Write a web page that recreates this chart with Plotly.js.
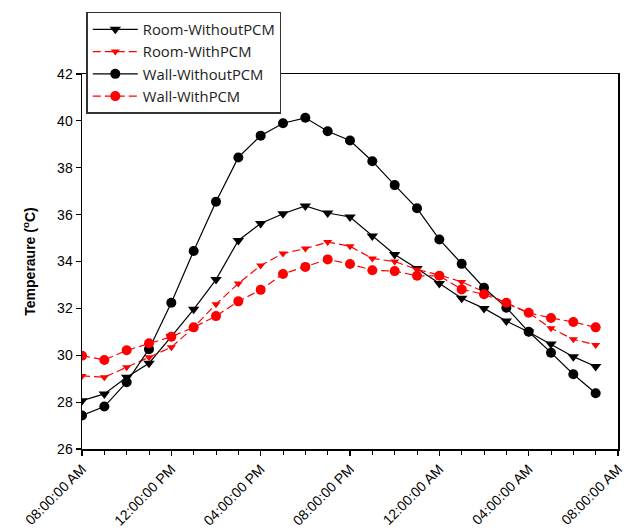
<!DOCTYPE html>
<html>
<head>
<meta charset="utf-8">
<script src="https://cdn.plot.ly/plotly-3.0.1.min.js"></script>
<style>html,body{margin:0;padding:0;background:#fff;}#chart{width:633px;height:532px;}</style>
</head>
<body>
<div id="chart"></div>
<script>
// Hours after 08:00 AM (hourly readings, 08:00 AM to 07:00 AM next day)
var hours = [0,1,2,3,4,5,6,7,8,9,10,11,12,13,14,15,16,17,18,19,20,21,22,23];
var tickHours = [0,4,8,12,16,20,24];
var tickLabels = ["08:00:00 AM","12:00:00 PM","04:00:00 PM","08:00:00 PM","12:00:00 AM","04:00:00 AM","08:00:00 AM"];

var roomWithoutPCM = [28.06,28.35,29.06,29.66,30.79,31.96,33.23,34.90,35.62,36.04,36.37,36.07,35.90,35.09,34.30,33.70,33.06,32.43,32.00,31.46,30.99,30.48,29.94,29.52];
var roomWithPCM    = [29.12,29.06,29.49,29.91,30.34,31.19,32.18,33.06,33.83,34.34,34.55,34.83,34.65,34.13,34.00,33.66,33.42,33.13,32.71,32.21,31.81,31.15,30.68,30.44];
var wallWithoutPCM = [27.43,27.81,28.85,30.26,32.24,34.45,36.55,38.44,39.37,39.90,40.13,39.56,39.16,38.28,37.26,36.27,34.94,33.90,32.88,32.03,31.00,30.11,29.19,28.38];
var wallWithPCM    = [29.98,29.80,30.21,30.51,30.79,31.19,31.67,32.30,32.79,33.47,33.77,34.09,33.89,33.63,33.59,33.39,33.39,32.81,32.60,32.24,31.81,31.59,31.42,31.19];

var traces = [
  {x: hours, y: roomWithoutPCM, name: "Room-WithoutPCM", mode: "lines+markers",
   line: {color: "#000000", width: 1.2}, marker: {symbol: "triangle-down", size: 10, color: "#000000"}},
  {x: hours, y: roomWithPCM, name: "Room-WithPCM", mode: "lines+markers",
   line: {color: "#ff0000", width: 1.2, dash: "8px,4px"}, marker: {symbol: "triangle-down", size: 8, color: "#ff0000"}},
  {x: hours, y: wallWithoutPCM, name: "Wall-WithoutPCM", mode: "lines+markers",
   line: {color: "#000000", width: 1.2}, marker: {symbol: "circle", size: 10, color: "#000000"}},
  {x: hours, y: wallWithPCM, name: "Wall-WithPCM", mode: "lines+markers",
   line: {color: "#ff0000", width: 1.2, dash: "8px,4px"}, marker: {symbol: "circle", size: 10, color: "#ff0000"}}
];

var layout = {
  width: 633, height: 532,
  margin: {l: 82, r: 15, t: 74, b: 83},
  paper_bgcolor: "#ffffff", plot_bgcolor: "#ffffff",
  font: {family: "Liberation Sans, Arial, sans-serif", color: "#000000", size: 14},
  showlegend: true,
  legend: {x: 0.008, y: 1.166, xanchor: "left", yanchor: "top",
           bgcolor: "#ffffff", bordercolor: "#333333", borderwidth: 1.5,
           font: {family: "Open Sans, sans-serif", size: 14.8, color: "#222222"},
           tracegroupgap: 0, itemwidth: 45},
  xaxis: {range: [0, 24], tickvals: tickHours, ticktext: tickLabels, tickangle: -45,
          showgrid: false, zeroline: false, showline: true, linecolor: "#000000", linewidth: 1.5,
          mirror: true, ticks: "outside", ticklen: 5, tickcolor: "#000000", tickwidth: 1.2,
          tickfont: {size: 14},
          minor: {dtick: 1, ticks: "outside", ticklen: 4, tickcolor: "#000000", tickwidth: 1, showgrid: false}},
  yaxis: {range: [26, 42], dtick: 2, tick0: 26, showgrid: false, zeroline: false,
          showline: true, linecolor: "#000000", linewidth: 1.5, mirror: true,
          ticks: "outside", ticklen: 5, tickcolor: "#000000", tickwidth: 1.2,
          tickfont: {size: 14},
          title: {text: "<b>Temperaure (<sup>o</sup>C)</b>", font: {size: 14}, standoff: 18}}
};

Plotly.newPlot("chart", traces, layout, {displayModeBar: false, staticPlot: true});
</script>
</body>
</html>
